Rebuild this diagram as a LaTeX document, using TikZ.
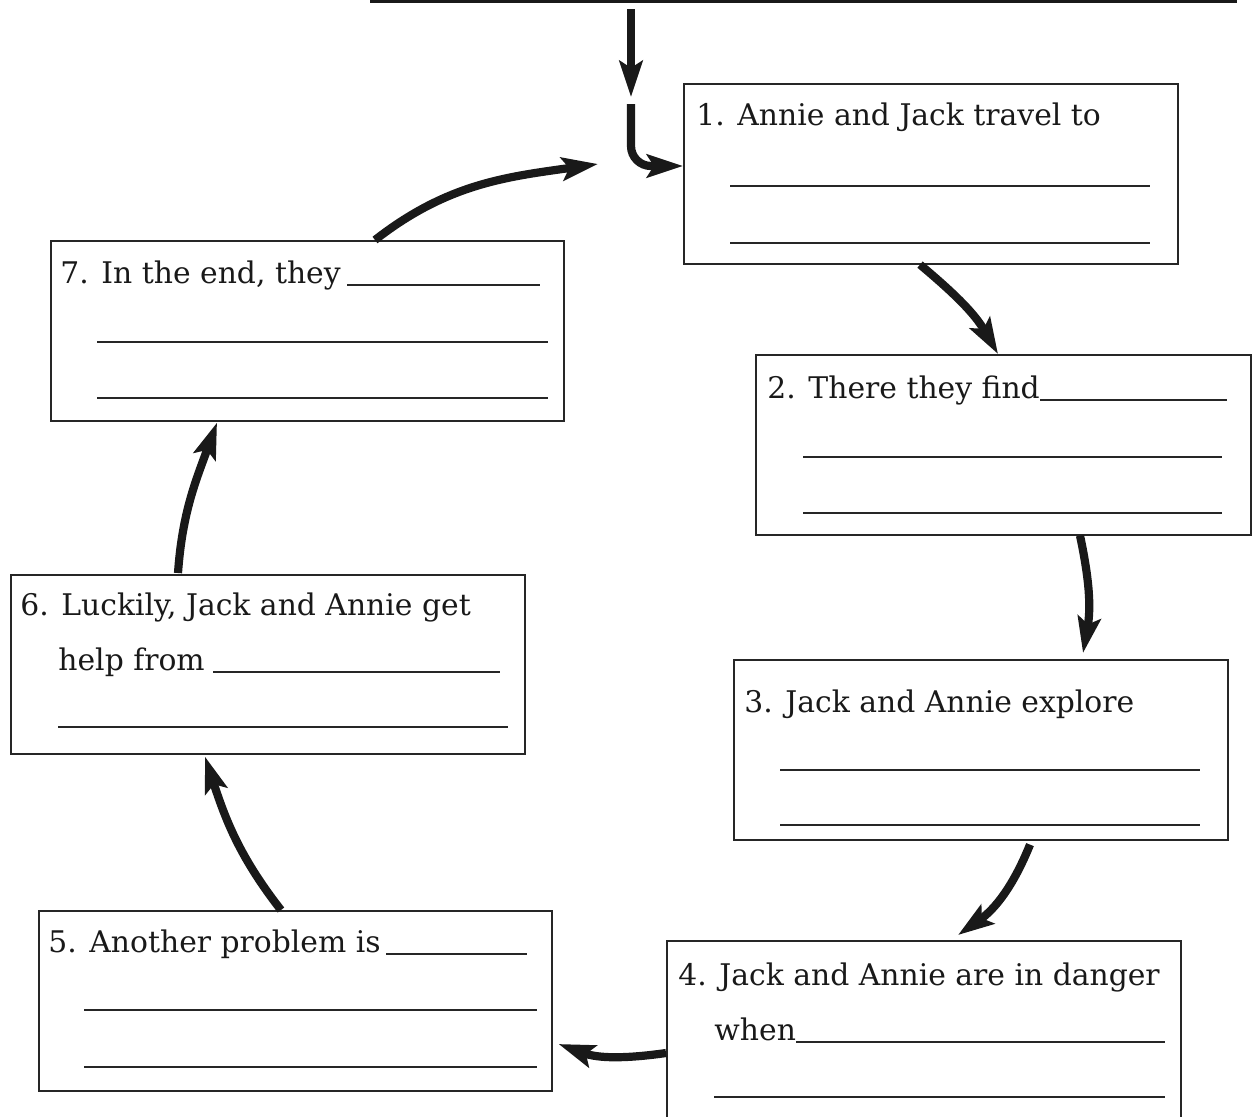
\documentclass[tikz,border=0pt]{standalone}
\usepackage{fontspec}
\setmainfont{DejaVu Serif}
\usetikzlibrary{arrows.meta,calc}
\begin{document}
\begin{tikzpicture}[x=0.5pt,y=0.5pt,
  box/.style={draw=black!85,line width=0.8pt,anchor=north west,inner sep=0pt,minimum height=90pt},
  txt/.style={anchor=base west,inner sep=0pt,font=\fontsize{14.9pt}{17pt}\selectfont,text=black!90},
  blank/.style={line width=0.9pt,draw=black!85},
  arr/.style={line width=4.1pt,draw=black!90,-{Stealth[length=18pt,width=11.5pt,inset=3.5pt]}},
]
\clip (0,0) rectangle (1256,-1116);
% title line
\draw[line width=1.5pt,black!90] (370,-1.5) -- (1237,-1.5);
% boxes
\node[box,minimum width=247pt] (b1) at (683,-83) {};
\node[box,minimum width=247.5pt] (b2) at (755,-354) {};
\node[box,minimum width=247pt] (b3) at (733,-659) {};
\node[box,minimum width=257pt,minimum height=95pt] (b4) at (666,-940) {};
\node[box,minimum width=256.5pt] (b5) at (38,-910) {};
\node[box,minimum width=257pt,minimum height=89.5pt] (b6) at (10,-574) {};
\node[box,minimum width=256.5pt] (b7) at (50,-240) {};
% texts
\node[txt] (t1) at (696,-125) {1. Annie and Jack travel to};
\draw[blank] (730,-186) -- (1150,-186);
\draw[blank] (730,-243) -- (1150,-243);
\node[txt] (t2) at (767,-398) {2. There they find};
\draw[blank] ($(t2.base east)+(0,-2)$) -- (1227,-400);
\draw[blank] (803,-457) -- (1222,-457);
\draw[blank] (803,-513) -- (1222,-513);
\node[txt] (t3) at (744,-712) {3. Jack and Annie explore};
\draw[blank] (780,-770) -- (1200,-770);
\draw[blank] (780,-825) -- (1200,-825);
\node[txt] (t4) at (678,-985) {4. Jack and Annie are in danger};
\node[txt] (t4b) at (714,-1040) {when};
\draw[blank] ($(t4b.base east)+(0,-2)$) -- (1165,-1042);
\draw[blank] (714,-1097) -- (1165,-1097);
\node[txt] (t5) at (48,-952) {5. Another problem is};
\draw[blank] ($(t5.base east)+(5,-2)$) -- (527,-954);
\draw[blank] (84,-1010) -- (537,-1010);
\draw[blank] (84,-1067) -- (537,-1067);
\node[txt] (t6) at (20,-615) {6. Luckily, Jack and Annie get};
\node[txt] (t6b) at (58,-670) {help from};
\draw[blank] ($(t6b.base east)+(8,-2)$) -- (500,-672);
\draw[blank] (58,-727) -- (508,-727);
\node[txt] (t7) at (60,-283) {7. In the end, they};
\draw[blank] ($(t7.base east)+(6,-2)$) -- (540,-285);
\draw[blank] (97,-342) -- (548,-342);
\draw[blank] (97,-398) -- (548,-398);
% arrows
\coordinate (a0s) at (631,-9);
\coordinate (a0e) at (631,-97);
\draw[arr] (a0s) -- (a0e);
\coordinate (j0) at (631,-104);
\draw[arr,rounded corners=10pt] (j0) |- ($(b1.north west)+(0,-83)$);
\coordinate (loopin) at (598,-164);
\draw[arr] ($(b7.north west)+(325,0)$) to[out=38,in=188] (loopin);
\draw[arr] ($(b1.south west)+(237,0)$) to[out=-40,in=120] ($(b2.north west)+(243,0)$);
\draw[arr] ($(b2.south west)+(325,0)$) to[out=-78,in=80] ($(b3.north west)+(350,6)$);
\draw[arr] ($(b3.south west)+(297,-4)$) to[out=-112,in=35] ($(b4.north west)+(292,5)$);
\draw[arr] ($(b4.north west)+(0,-113)$) to[out=188,in=-20] ($(b5.north east)+(6,-134)$);
\draw[arr] ($(b5.north west)+(243,0)$) to[out=128,in=-72] ($(b6.south west)+(195,-2)$);
\draw[arr] ($(b6.north west)+(168,1)$) to[out=86,in=-110] ($(b7.south west)+(167,-1)$);
\end{tikzpicture}
\end{document}
